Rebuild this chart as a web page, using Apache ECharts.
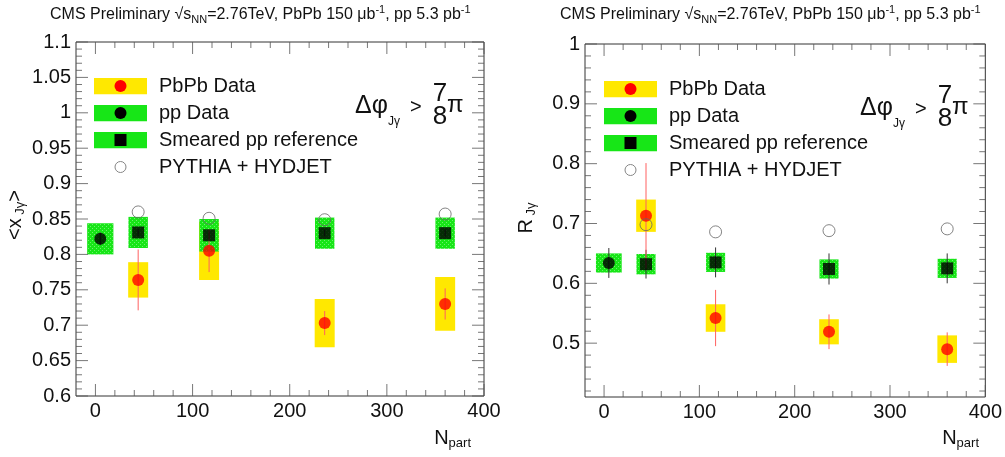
<!DOCTYPE html>
<html>
<head>
<meta charset="utf-8">
<script src="https://cdn.jsdelivr.net/npm/echarts@6/dist/echarts.min.js"></script>
<style>
html, body { margin: 0; padding: 0; background: #fff; }
#chart { width: 1005px; height: 457px; }
</style>
</head>
<body>
<div id="chart"></div>
<script>
// N_part of the PbPb centrality bins, and where the pp point sits
const nPart = [44, 117, 236, 360];
const nPartPP = 5;

// left panel: <x_Jγ>
const xjPbPb = [0.764, 0.805, 0.703, 0.730];
const xjPbPbStat = [0.043, 0.030, 0.017, 0.022];
const xjPbPbSys = [0.025, 0.041, 0.034, 0.038];
const xjPP = 0.822;
const xjPPStat = 0.009;
const xjPPSys = 0.022;
const xjSmeared = [0.831, 0.827, 0.830, 0.830];
const xjSmearedStat = [0.005, 0.005, 0.005, 0.005];
const xjSmearedSys = [0.022, 0.023, 0.022, 0.022];
const xjPythia = [0.860, 0.851, 0.849, 0.857];

// right panel: R_Jγ
const rPbPb = [0.713, 0.542, 0.519, 0.490];
const rPbPbStat = [0.088, 0.047, 0.029, 0.028];
const rPbPbSys = [0.027, 0.023, 0.021, 0.023];
const rPP = 0.634;
const rPPStat = 0.025;
const rPPSys = 0.016;
const rSmeared = [0.632, 0.635, 0.624, 0.625];
const rSmearedStat = [0.024, 0.025, 0.026, 0.025];
const rSmearedSys = [0.017, 0.016, 0.016, 0.016];
const rPythia = [0.698, 0.686, 0.688, 0.691];

// tick values (labels and major ticks)
const xMajorTicks = [0, 100, 200, 300, 400];
const xjMajorTicks = [0.6, 0.65, 0.7, 0.75, 0.8, 0.85, 0.9, 0.95, 1, 1.05, 1.1];
const rMajorTicks = [0.5, 0.6, 0.7, 0.8, 0.9, 1];

const FONT = '"Liberation Sans", Arial, Helvetica, sans-serif';
const YELLOW = '#ffe800';
const RED = '#ff0000';
const TICK = '#555';

// minor ticks: 5 divisions between neighbouring major ticks, kept inside (lo, hi)
function minorTicks(majors, lo, hi) {
    const step = majors[1] - majors[0];
    const out = [];
    const all = [majors[0] - step].concat(majors, [majors[majors.length - 1] + step]);
    for (let i = 0; i < all.length - 1; i++) {
        for (let k = 1; k < 5; k++) {
            const v = +(all[i] + (all[i + 1] - all[i]) * k / 5).toFixed(4);
            if (v > lo && v < hi) out.push(v);
        }
    }
    return out;
}

// green boxes in ROOT have a speckled fill
const pat = document.createElement('canvas');
pat.width = 4; pat.height = 4;
const pctx = pat.getContext('2d');
pctx.fillStyle = '#17e617';
pctx.fillRect(0, 0, 4, 4);
pctx.fillStyle = '#6cf06c';
pctx.fillRect(0, 0, 1, 1);
pctx.fillRect(2, 2, 1, 1);
const GREEN = { image: pat, repeat: 'repeat' };

function boxItem(fill, halfW) {
    return function (params, api) {
        const p0 = api.coord([api.value(0) - halfW, api.value(2)]);
        const p1 = api.coord([api.value(0) + halfW, api.value(1)]);
        return {
            type: 'rect',
            shape: { x: p0[0], y: p0[1], width: p1[0] - p0[0], height: p1[1] - p0[1] },
            style: { fill: fill }
        };
    };
}

function errItem(color) {
    return function (params, api) {
        const a = api.coord([api.value(0), api.value(1)]);
        const b = api.coord([api.value(0), api.value(2)]);
        return {
            type: 'line',
            shape: { x1: a[0], y1: a[1], x2: b[0], y2: b[1] },
            style: { stroke: color, lineWidth: 1 }
        };
    };
}

// ROOT-style inward ticks on all four frame sides, as thin rect symbols placed by the axis scales
// (anchored a hair inside the frame so no point sits exactly on the axis extent)
function tickSeries(xi, yi, xr, yr, xTicks, yTicks) {
    const base = { type: 'scatter', xAxisIndex: xi, yAxisIndex: yi, silent: true, clip: false, z: 10,
        symbol: 'rect', itemStyle: { color: TICK } };
    const xMinor = minorTicks(xTicks, xr[0], xr[1]);
    const yMinor = minorTicks(yTicks, yr[0], yr[1]);
    const ex = (xr[1] - xr[0]) * 1e-5;
    const ey = (yr[1] - yr[0]) * 1e-5;
    const inX = v => Math.min(Math.max(v, xr[0] + ex), xr[1] - ex);
    const inY = v => Math.min(Math.max(v, yr[0] + ey), yr[1] - ey);
    const mk = (vals, toPt, len, vertical, sign) => Object.assign({
        symbolSize: vertical ? [1, len] : [len, 1],
        symbolOffset: vertical ? [0, sign * len / 2] : [sign * len / 2, 0],
        data: vals.map(toPt)
    }, base);
    return [
        mk(xTicks, v => [inX(v), yr[0] + ey], 12, true, -1),
        mk(xMinor, v => [v, yr[0] + ey], 6, true, -1),
        mk(xTicks, v => [inX(v), yr[1] - ey], 12, true, 1),
        mk(xMinor, v => [v, yr[1] - ey], 6, true, 1),
        mk(yTicks, v => [xr[0] + ex, inY(v)], 12, false, 1),
        mk(yMinor, v => [xr[0] + ex, v], 6, false, 1),
        mk(yTicks, v => [xr[1] - ex, inY(v)], 12, false, -1),
        mk(yMinor, v => [xr[1] - ex, v], 6, false, -1)
    ];
}

function band(vals, errs) {
    return nPart.map((x, i) => [x, vals[i] - errs[i], vals[i] + errs[i]]);
}

function panelSeries(xi, yi, d) {
    const base = { xAxisIndex: xi, yAxisIndex: yi, silent: true };
    return [
        Object.assign({ name: 'PbPb Data', type: 'custom', renderItem: boxItem(YELLOW, 10.3), data: band(d.pbpb, d.pbpbSys) }, base),
        Object.assign({ name: 'Smeared pp reference', type: 'custom', renderItem: boxItem(GREEN, 10), data: band(d.smeared, d.smearedSys) }, base),
        Object.assign({ name: 'pp Data', type: 'custom', renderItem: boxItem(GREEN, 13.5), data: [[nPartPP, d.pp - d.ppSys, d.pp + d.ppSys]] }, base),
        Object.assign({ name: 'Smeared pp reference', type: 'custom', renderItem: errItem('#333'), data: band(d.smeared, d.smearedStat) }, base),
        Object.assign({ name: 'pp Data', type: 'custom', renderItem: errItem('#333'), data: [[nPartPP, d.pp - d.ppStat, d.pp + d.ppStat]] }, base),
        Object.assign({ name: 'PbPb Data', type: 'custom', renderItem: errItem('#ff6060'), data: band(d.pbpb, d.pbpbStat) }, base),
        Object.assign({ name: 'pp Data', type: 'scatter', symbol: 'circle', symbolSize: 12, itemStyle: { color: '#000' }, data: [[nPartPP, d.pp]] }, base),
        Object.assign({ name: 'Smeared pp reference', type: 'scatter', symbol: 'rect', symbolSize: 12, itemStyle: { color: '#000' }, data: nPart.map((x, i) => [x, d.smeared[i]]) }, base),
        Object.assign({ name: 'PbPb Data', type: 'scatter', symbol: 'circle', symbolSize: 12, itemStyle: { color: RED }, data: nPart.map((x, i) => [x, d.pbpb[i]]) }, base),
        Object.assign({ name: 'PYTHIA + HYDJET', type: 'scatter', symbol: 'circle', symbolSize: 12, itemStyle: { color: 'rgba(0,0,0,0)', borderColor: '#666', borderWidth: 1 }, data: nPart.map((x, i) => [x, d.pythia[i]]) }, base)
    ];
}

function svgIcon(inner) {
    return 'image://data:image/svg+xml;charset=utf-8,' + encodeURIComponent(
        '<svg xmlns="http://www.w3.org/2000/svg" width="60" height="17" viewBox="0 0 60 17">' + inner + '</svg>');
}
const greenRect = '<rect width="53" height="17" fill="#17e617"/>';
const legendData = [
    { name: 'PbPb Data', icon: svgIcon('<rect width="53" height="17" fill="' + YELLOW + '"/><circle cx="26.5" cy="8.5" r="6" fill="#f00"/>') },
    { name: 'pp Data', icon: svgIcon(greenRect + '<circle cx="26.5" cy="8.5" r="6" fill="#000"/>') },
    { name: 'Smeared pp reference', icon: svgIcon(greenRect + '<rect x="20.5" y="2.5" width="12" height="12" fill="#000"/>') },
    { name: 'PYTHIA + HYDJET', icon: svgIcon('<circle cx="26.5" cy="8.5" r="5.5" fill="none" stroke="#666" stroke-width="1"/>') }
];

function legend(left, top) {
    return {
        left: left, top: top, orient: 'vertical', selectedMode: false, padding: 0,
        itemWidth: 60, itemHeight: 17, itemGap: 7,
        textStyle: { fontSize: 20, lineHeight: 20, color: '#111', fontFamily: FONT },
        data: legendData
    };
}

const labelStyle = { fontSize: 20, color: '#111', fontFamily: FONT };
const bare = { axisLine: { show: false, onZero: false }, axisTick: { show: false }, splitLine: { show: false } };

function annotations(dx, dy) {
    const t = (text, x, y, size, extra) => ({
        type: 'text', x: x + dx, y: y + dy, silent: true,
        style: Object.assign({ text: text, fontSize: size, fontFamily: FONT, fill: '#111', verticalAlign: 'middle' }, extra || {})
    });
    return [
        t('Δφ', 355, 106, 25),
        t('Jγ', 388, 122, 12),
        t('>', 410, 107, 20),
        t('7', 440, 94, 26, { align: 'center' }),
        t('8', 440, 117, 26, { align: 'center' }),
        t('π', 447, 105, 24)
    ];
}

function title(x) {
    return {
        type: 'text', x: x, y: 4, silent: true,
        style: {
            text: '{a|CMS Preliminary √s}{b|NN}{a|=2.76TeV, PbPb 150 μb}{c|-1}{a|, pp 5.3 pb}{c|-1}',
            fontFamily: FONT, fill: '#111',
            rich: {
                a: { fontSize: 16, lineHeight: 21, fontFamily: FONT },
                b: { fontSize: 11, lineHeight: 11, verticalAlign: 'bottom', fontFamily: FONT },
                c: { fontSize: 11, lineHeight: 11, verticalAlign: 'top', fontFamily: FONT }
            }
        }
    };
}

function subText(x, y, text, rotation, align) {
    return {
        type: 'text', x: x, y: y, silent: true, rotation: rotation,
        style: {
            text: text, fontFamily: FONT, fill: '#111',
            align: align, verticalAlign: 'middle',
            rich: {
                a: { fontSize: 20, lineHeight: 24, fontFamily: FONT },
                b: { fontSize: 13, lineHeight: 13, verticalAlign: 'bottom', fontFamily: FONT }
            }
        }
    };
}

const option = {
    animation: false,
    backgroundColor: '#fff',
    grid: [
        { left: 76, top: 42, width: 408, height: 354, show: true, borderColor: '#333', borderWidth: 1 },
        { left: 585, top: 44, width: 403, height: 353, show: true, borderColor: '#333', borderWidth: 1 }
    ],
    xAxis: [
        Object.assign({ type: 'value', gridIndex: 0, min: -20, max: 400,
            axisLabel: Object.assign({ margin: 5, customValues: xMajorTicks }, labelStyle) }, bare),
        Object.assign({ type: 'value', gridIndex: 1, min: -20, max: 400,
            axisLabel: Object.assign({ margin: 5, customValues: xMajorTicks }, labelStyle) }, bare)
    ],
    yAxis: [
        Object.assign({ type: 'value', gridIndex: 0, min: 0.6, max: 1.1,
            axisLabel: Object.assign({ margin: 5, customValues: xjMajorTicks }, labelStyle) }, bare),
        Object.assign({ type: 'value', gridIndex: 1, min: 0.41, max: 1,
            axisLabel: Object.assign({ margin: 5, customValues: rMajorTicks }, labelStyle) }, bare)
    ],
    legend: [legend(94, 76), legend(604, 79)],
    graphic: [
        title(50), title(560),
        subText(471, 438, '{a|N}{b|part}', 0, 'right'),
        subText(979, 438, '{a|N}{b|part}', 0, 'right'),
        subText(15, 215, '{a|<x}{b| Jγ}{a|>}', Math.PI / 2, 'center'),
        subText(526, 218, '{a|R}{b| Jγ}', Math.PI / 2, 'center')
    ].concat(annotations(0, 0), annotations(505, 2)),
    series: panelSeries(0, 0, {
            pbpb: xjPbPb, pbpbStat: xjPbPbStat, pbpbSys: xjPbPbSys,
            pp: xjPP, ppStat: xjPPStat, ppSys: xjPPSys,
            smeared: xjSmeared, smearedStat: xjSmearedStat, smearedSys: xjSmearedSys,
            pythia: xjPythia
        })
        .concat(panelSeries(1, 1, {
            pbpb: rPbPb, pbpbStat: rPbPbStat, pbpbSys: rPbPbSys,
            pp: rPP, ppStat: rPPStat, ppSys: rPPSys,
            smeared: rSmeared, smearedStat: rSmearedStat, smearedSys: rSmearedSys,
            pythia: rPythia
        }))
        .concat(tickSeries(0, 0, [-20, 400], [0.6, 1.1], xMajorTicks, xjMajorTicks))
        .concat(tickSeries(1, 1, [-20, 400], [0.41, 1], xMajorTicks, rMajorTicks))
};

const chart = echarts.init(document.getElementById('chart'));
chart.setOption(option);
</script>
</body>
</html>
